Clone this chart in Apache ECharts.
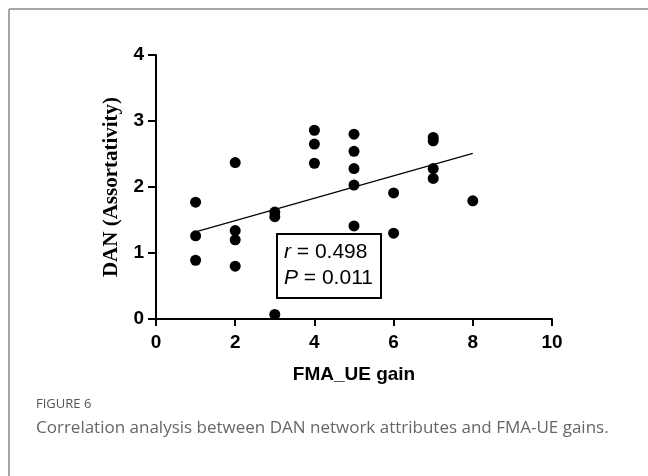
<!DOCTYPE html>
<html>
<head>
<meta charset="utf-8">
<script src="https://cdn.jsdelivr.net/npm/echarts@6/dist/echarts.min.js"></script>
<style>
  html, body { margin: 0; padding: 0; background: #fff; }
  #chart { width: 648px; height: 476px; }
</style>
</head>
<body>
<div id="chart"></div>
<script>
// FMA_UE gain vs DAN assortativity
var gainX = [1, 1, 1, 2, 2, 2, 2, 3, 3, 3, 4, 4, 4, 5, 5, 5, 5, 5, 6, 6, 7, 7, 7, 7, 8];
var danY = [1.77, 1.26, 0.89, 2.37, 1.34, 1.20, 0.80, 1.62, 1.55, 0.07, 2.86, 2.65, 2.36,
            2.80, 2.54, 2.28, 2.03, 1.41, 1.91, 1.30, 2.75, 2.70, 2.28, 2.13, 1.79];
// fitted line end points
var fitX = [1, 8];
var fitY = [1.32, 2.51];
var xTicks = [0, 2, 4, 6, 8, 10];
var yTicks = [0, 1, 2, 3, 4];

var chart = echarts.init(document.getElementById("chart"));

var points = gainX.map(function (x, i) { return [x, danY[i]]; });
var fit = fitX.map(function (x, i) { return [x, fitY[i]]; });

chart.setOption({
  animation: false,
  grid: { left: 156, right: 96, top: 55, bottom: 157, containLabel: false },
  xAxis: {
    type: "value",
    min: xTicks[0],
    max: xTicks[xTicks.length - 1],
    interval: 2,
    name: "FMA_UE gain",
    nameLocation: "middle",
    nameGap: 46,
    nameTextStyle: { fontFamily: "Liberation Sans", fontWeight: "bold", fontSize: 19, color: "#000" },
    axisLine: { lineStyle: { color: "#000", width: 2 } },
    axisTick: { show: true, length: 7, lineStyle: { color: "#000", width: 2 } },
    axisLabel: { fontFamily: "Liberation Sans", fontWeight: "bold", fontSize: 19, color: "#000", margin: 14 },
    splitLine: { show: false }
  },
  yAxis: {
    type: "value",
    min: yTicks[0],
    max: yTicks[yTicks.length - 1],
    interval: 1,
    name: "DAN (Assortativity)",
    nameLocation: "middle",
    nameGap: 34,
    nameTextStyle: { fontFamily: "Liberation Serif", fontWeight: "bold", fontSize: 21, color: "#000" },
    axisLine: { show: true, lineStyle: { color: "#000", width: 2 } },
    axisTick: { show: true, length: 8, lineStyle: { color: "#000", width: 2 } },
    axisLabel: { fontFamily: "Liberation Sans", fontWeight: "bold", fontSize: 19, color: "#000", margin: 12 },
    splitLine: { show: false }
  },
  series: [
    {
      name: "fit",
      type: "line",
      data: fit,
      symbol: "none",
      lineStyle: { color: "#000", width: 1.2 },
      z: 1
    },
    {
      name: "subjects",
      type: "scatter",
      data: points,
      symbol: "circle",
      symbolSize: 11,
      itemStyle: { color: "#000", opacity: 1 },
      z: 2
    }
  ],
  graphic: [
    // figure frame (top and left)
    { type: "line", shape: { x1: 9, y1: 9, x2: 648, y2: 9 }, style: { stroke: "#888", lineWidth: 1.5 } },
    { type: "line", shape: { x1: 9, y1: 9, x2: 9, y2: 476 }, style: { stroke: "#888", lineWidth: 1.5 } },
    // stats box
    {
      type: "rect",
      shape: { x: 277, y: 234, width: 104, height: 64 },
      style: { fill: "#fff", stroke: "#000", lineWidth: 2 }
    },
    {
      type: "text",
      left: 284, top: 239,
      style: {
        text: "{i|r} = 0.498\n{i|P} = 0.011",
        fontFamily: "Liberation Sans", fontSize: 21, lineHeight: 26, fill: "#000",
        rich: { i: { fontStyle: "italic", fontFamily: "Liberation Sans", fontSize: 21 } }
      }
    },
    // caption
    {
      type: "text",
      left: 36, top: 398,
      style: { text: "FIGURE 6", fontFamily: "Open Sans", fontSize: 13, fill: "#555" }
    },
    {
      type: "text",
      left: 36, top: 420,
      style: { text: "Correlation analysis between DAN network attributes and FMA-UE gains.", fontFamily: "Open Sans", fontSize: 17, fill: "#666" }
    }
  ]
});
</script>
</body>
</html>
